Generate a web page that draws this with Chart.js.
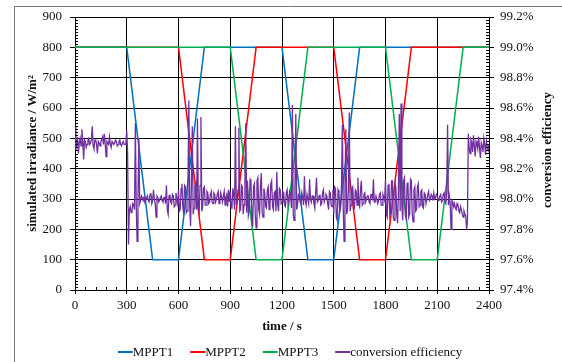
<!DOCTYPE html>
<html>
<head>
<meta charset="utf-8">
<script src="https://cdn.jsdelivr.net/npm/chart.js@4.4.1/dist/chart.umd.min.js"></script>
<style>
    html, body { margin: 0; padding: 0; background: #fff; }
    #wrap { width: 562px; height: 362px; position: relative; }
</style>
</head>
<body>
<div id="wrap"><canvas id="chart" width="562" height="362"></canvas></div>
<script>
// Irradiance profiles (W/m2) at the corner times of the ramps
const mpptTime = [0, 300, 450, 600, 750, 900, 1050, 1200, 1350, 1500, 1650, 1800, 1950, 2100, 2250, 2400];
const mppt1 = [800, 800, 100, 100, 800, 800, 800, 800, 100, 100, 800, 800, 800, 800, 800, 800];
const mppt2 = [800, 800, 800, 800, 100, 100, 800, 800, 800, 800, 100, 100, 800, 800, 800, 800];
const mppt3 = [800, 800, 800, 800, 800, 800, 100, 100, 800, 800, 800, 800, 100, 100, 800, 800];

// Conversion efficiency (%), one sample every 5 s
const effStep = 5;
const efficiency = [
    98.48, 98.32, 98.36, 98.41, 98.30, 98.37, 98.40, 98.35, 98.46, 98.38, 98.26, 98.39, 98.38, 98.34, 98.36, 98.39, 98.40, 98.36, 98.37, 98.39,
    98.48, 98.35, 98.33, 98.39, 98.39, 98.36, 98.30, 98.38, 98.37, 98.35, 98.38, 98.39, 98.41, 98.36, 98.43, 98.37, 98.28, 98.38, 98.37, 98.36,
    98.41, 98.36, 98.34, 98.38, 98.38, 98.36, 98.37, 98.39, 98.38, 98.35, 98.36, 98.38, 98.39, 98.36, 98.35, 98.37, 98.38, 98.36, 98.36, 98.37,
    98.45, 98.30, 97.70, 97.93, 97.95, 97.91, 97.92, 97.97, 97.96, 97.93, 98.50, 97.96, 97.72, 98.00, 98.40, 97.97, 97.99, 98.02, 98.01, 97.99,
    98.01, 97.98, 97.99, 98.01, 98.02, 97.99, 97.98, 98.03, 98.04, 97.97, 97.99, 98.06, 98.00, 97.97, 97.88, 98.02, 98.01, 97.98, 97.99, 98.01,
    98.02, 97.99, 97.98, 98.01, 98.01, 97.97, 98.09, 97.93, 97.90, 98.02, 98.03, 97.98, 97.97, 98.03, 98.02, 97.95, 97.96, 98.04, 98.00, 97.97,
    98.06, 97.92, 97.93, 98.07, 98.10, 97.95, 97.90, 98.09, 98.08, 97.91, 97.92, 98.11, 98.65, 97.95, 97.82, 98.10, 98.48, 97.90, 97.94, 98.08,
    98.10, 97.93, 98.53, 97.94, 97.91, 98.09, 98.54, 97.92, 97.95, 98.07, 98.08, 97.96, 97.96, 98.05, 98.04, 97.97, 97.98, 98.03, 98.05, 97.98,
    97.97, 98.04, 98.03, 97.98, 98.00, 98.03, 98.05, 97.97, 97.99, 98.04, 98.01, 97.98, 98.02, 98.05, 97.96, 98.01, 98.03, 97.95, 98.06, 97.98,
    98.05, 97.94, 97.95, 98.07, 98.03, 97.93, 98.48, 97.96, 98.00, 98.06, 98.47, 97.92, 97.93, 98.09, 98.08, 97.90, 97.96, 98.11, 98.50, 97.91,
    98.12, 97.89, 97.92, 98.13, 98.12, 97.86, 97.82, 98.08, 98.10, 97.90, 97.81, 98.12, 98.14, 97.93, 97.90, 98.09, 98.17, 97.91, 97.88, 98.07,
    98.04, 97.95, 97.94, 98.06, 98.08, 97.93, 97.96, 98.10, 98.12, 97.95, 97.93, 98.04, 98.05, 97.92, 98.18, 97.96, 97.92, 98.07, 98.06, 97.97,
    97.98, 98.05, 98.04, 97.96, 97.95, 98.04, 98.06, 97.97, 97.97, 98.05, 98.03, 97.94, 98.62, 97.90, 97.86, 98.06, 98.56, 97.93, 97.96, 98.03,
    98.02, 97.98, 97.97, 98.04, 98.01, 97.96, 98.15, 97.99, 97.96, 98.03, 98.03, 97.97, 98.13, 98.00, 97.98, 98.02, 98.02, 97.97, 97.94, 98.04,
    98.14, 97.98, 97.99, 98.02, 98.03, 97.96, 97.97, 98.04, 98.06, 97.98, 98.00, 98.03, 98.02, 97.97, 97.93, 98.05, 98.04, 97.96, 97.95, 98.06,
    97.90, 98.08, 98.07, 97.88, 97.86, 98.06, 98.04, 97.92, 97.95, 98.10, 98.49, 97.94, 97.72, 98.08, 98.46, 97.90, 97.93, 98.07, 98.57, 97.92,
    97.96, 98.07, 98.08, 97.95, 97.94, 98.06, 98.05, 97.96, 98.14, 97.97, 97.95, 98.06, 98.12, 97.96, 97.97, 98.03, 98.04, 97.98, 98.00, 98.02,
    98.02, 97.98, 97.97, 98.03, 98.03, 97.99, 98.13, 97.98, 97.98, 98.02, 98.02, 97.97, 97.99, 98.03, 98.04, 97.96, 97.96, 98.03, 98.01, 97.99,
    98.13, 97.90, 97.88, 98.09, 98.10, 97.89, 97.92, 98.12, 98.12, 97.88, 97.86, 98.10, 98.08, 97.90, 97.84, 98.05, 98.56, 97.92, 98.63, 97.95,
    97.86, 98.12, 98.14, 97.89, 97.87, 98.10, 98.11, 97.88, 97.90, 98.13, 98.12, 97.90, 97.85, 98.06, 98.08, 97.92, 97.93, 98.08, 98.10, 97.95,
    97.96, 98.05, 98.06, 97.95, 97.94, 98.04, 98.03, 97.97, 97.97, 98.03, 98.05, 97.99, 98.00, 98.03, 98.02, 97.99, 98.04, 98.00, 98.01, 98.03,
    98.02, 97.99, 98.00, 98.02, 98.03, 97.98, 97.99, 98.03, 98.04, 97.98, 97.97, 98.05, 98.49, 97.96, 98.02, 97.97, 97.80, 97.99, 97.98, 97.95,
    97.97, 97.94, 97.93, 97.97, 97.96, 97.92, 97.91, 97.95, 97.93, 97.90, 97.88, 97.92, 97.90, 97.89, 97.80, 97.85, 98.43, 98.34, 98.30, 98.39,
    98.37, 98.31, 98.42, 98.35, 98.28, 98.38, 98.36, 98.33, 98.41, 98.34, 98.27, 98.37, 98.35, 98.31, 98.40, 98.36, 98.29, 98.38, 98.34, 98.32,
    98.36
];

// Axis ranges and tick steps
const timeRange = [0, 2400, 300];
const irrRange = [0, 900, 100];
const effRange = [97.4, 99.2, 0.2];

const seriesNames = ['MPPT1', 'MPPT2', 'MPPT3', 'conversion efficiency'];
const seriesColors = ['#0070C0', '#FF0000', '#00B050', '#7030A0'];

const serif = "'Liberation Serif', 'Times New Roman', serif";
const ink = '#111';

const toPoints = (xs, ys) => xs.map((x, i) => ({ x: x, y: ys[i] }));
const effPoints = efficiency.map((v, i) => ({ x: i * effStep, y: v }));

// Minor ticks, outer frame, right title and legend
const extrasPlugin = {
    id: 'extras',
    beforeDraw(chart) {
        const ctx = chart.ctx;
        ctx.save();
        ctx.strokeStyle = '#777';
        ctx.lineWidth = 1;
        ctx.beginPath();
        ctx.moveTo(14.5, 362);
        ctx.lineTo(14.5, 6.5);
        ctx.lineTo(562, 6.5);
        ctx.stroke();
        ctx.restore();
    },
    afterDraw(chart) {
        const ctx = chart.ctx;
        const area = chart.chartArea;
        const { x, y, y2 } = chart.scales;
        ctx.save();
        ctx.strokeStyle = '#000';
        ctx.lineWidth = 1;
        ctx.beginPath();
        for (let i = 1; i < 90; i++) {
            if (i % 10 === 0) continue;
            const py = Math.round(y.getPixelForValue(i * 10)) + 0.5;
            ctx.moveTo(area.left, py);
            ctx.lineTo(area.left + 3, py);
            const qy = Math.round(y2.getPixelForValue(effRange[0] + i * 0.02)) + 0.5;
            ctx.moveTo(area.right, qy);
            ctx.lineTo(area.right - 3, qy);
        }
        for (let i = 1; i < 40; i++) {
            if (i % 5 === 0) continue;
            const px = Math.round(x.getPixelForValue(i * 60)) + 0.5;
            ctx.moveTo(px, area.bottom);
            ctx.lineTo(px, area.bottom - 3);
        }
        ctx.stroke();

        // right axis title, reading bottom to top
        ctx.fillStyle = ink;
        ctx.font = "bold 13px " + serif;
        ctx.textAlign = 'center';
        ctx.textBaseline = 'middle';
        ctx.translate(548, 150);
        ctx.rotate(-Math.PI / 2);
        ctx.fillText('conversion efficiency', 0, 0);
        ctx.setTransform(1, 0, 0, 1, 0, 0);

        // legend
        ctx.font = "13px " + serif;
        ctx.textAlign = 'left';
        const lineLen = 15, gap = 17;
        const widths = seriesNames.map(n => lineLen + ctx.measureText(n).width);
        const total = widths.reduce((a, b) => a + b, 0) + gap * (widths.length - 1);
        let lx = 290 - total / 2;
        const ly = 352;
        seriesNames.forEach((name, i) => {
            ctx.strokeStyle = seriesColors[i];
            ctx.lineWidth = 2;
            ctx.beginPath();
            ctx.moveTo(lx, ly);
            ctx.lineTo(lx + lineLen, ly);
            ctx.stroke();
            ctx.fillStyle = ink;
            ctx.fillText(name, lx + lineLen, ly + 1);
            lx += widths[i] + gap;
        });
        ctx.restore();
    }
};

new Chart(document.getElementById('chart'), {
    type: 'line',
    data: {
        datasets: [{
            label: seriesNames[0],
            data: toPoints(mpptTime, mppt1),
            borderColor: seriesColors[0],
            yAxisID: 'y',
            order: 4
        }, {
            label: seriesNames[1],
            data: toPoints(mpptTime, mppt2),
            borderColor: seriesColors[1],
            yAxisID: 'y',
            order: 3
        }, {
            label: seriesNames[2],
            data: toPoints(mpptTime, mppt3),
            borderColor: seriesColors[2],
            yAxisID: 'y',
            order: 2
        }, {
            label: seriesNames[3],
            data: effPoints,
            borderColor: seriesColors[3],
            borderWidth: 1.3,
            yAxisID: 'y2',
            order: 1
        }]
    },
    options: {
        responsive: false,
        animation: false,
        events: [],
        layout: { padding: { left: 0, right: 0, top: 17, bottom: 28 } },
        elements: {
            line: { borderWidth: 1.5, tension: 0, fill: false },
            point: { radius: 0 }
        },
        plugins: {
            legend: { display: false },
            tooltip: { enabled: false }
        },
        scales: {
            x: {
                type: 'linear',
                min: timeRange[0],
                max: timeRange[1],
                afterFit: s => { s.height = 44; },
                ticks: {
                    stepSize: timeRange[2],
                    color: ink,
                    padding: 4,
                    maxRotation: 0,
                    font: { family: serif, size: 13 },
                    callback: v => String(v)
                },
                grid: { color: '#000', lineWidth: 1, tickLength: 4 },
                border: { color: '#000' },
                title: {
                    display: true,
                    text: 'time / s',
                    color: ink,
                    padding: 0,
                    font: { family: serif, size: 13, weight: 'bold' }
                }
            },
            y: {
                position: 'left',
                min: irrRange[0],
                max: irrRange[1],
                afterFit: s => { s.width = 75; },
                ticks: {
                    stepSize: irrRange[2],
                    color: ink,
                    padding: 8,
                    font: { family: serif, size: 13 }
                },
                grid: { color: '#000', lineWidth: 1, tickLength: 5 },
                border: { color: '#000' },
                title: {
                    display: true,
                    text: 'simulated irradiance / W/m²',
                    color: ink,
                    padding: { top: 25, bottom: 0 },
                    font: { family: serif, size: 13, weight: 'bold' }
                }
            },
            y2: {
                position: 'right',
                min: effRange[0],
                max: effRange[1],
                afterFit: s => { s.width = 73; },
                ticks: {
                    stepSize: effRange[2],
                    color: ink,
                    padding: 6,
                    font: { family: serif, size: 13 },
                    callback: v => v.toFixed(1) + '%'
                },
                grid: { drawOnChartArea: false, color: '#000', tickLength: 5 },
                border: { color: '#000' }
            }
        }
    },
    plugins: [extrasPlugin]
});
</script>
</body>
</html>
